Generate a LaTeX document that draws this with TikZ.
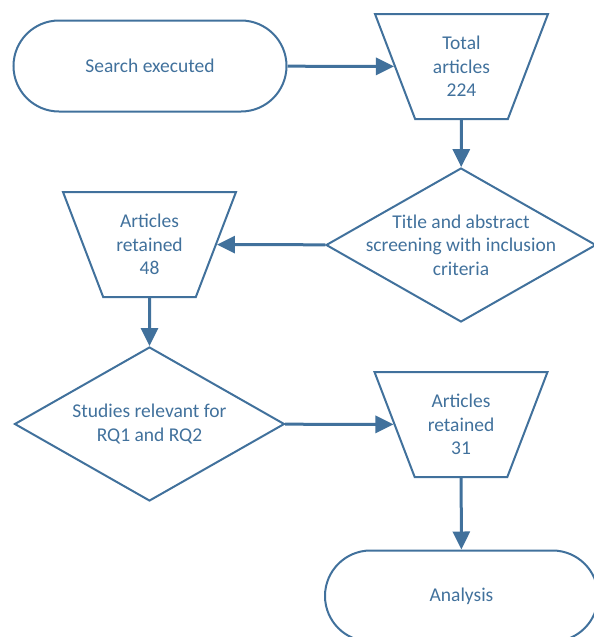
\documentclass[tikz,border=0pt]{standalone}
\usepackage{fontspec}
\setmainfont{Carlito}
\usepackage{xcolor}
\usetikzlibrary{
  shapes.geometric,
  shapes.misc,
  arrows.meta
}
\definecolor{flowblue}{RGB}{65,113,156}

\begin{document}
\begin{tikzpicture}[
  x=1pt, y=-1pt,
  every node/.style = {draw=flowblue, line width=2pt, align=center,
    text=flowblue, inner sep=0pt,
    font=\fontsize{19.5}{23.5}\selectfont},
  terminal/.style = {rounded rectangle, minimum width=273pt, minimum height=91pt},
  countbox/.style = {trapezium, shape border rotate=180, trapezium stretches body,
    trapezium left angle=69, trapezium right angle=69,
    inner ysep=22pt, minimum width=173pt, minimum height=105pt},
  decision/.style = {diamond, aspect=1.75, inner sep=-30pt,
    minimum width=270pt, minimum height=154pt},
  flow/.style = {draw=flowblue, line width=3pt, -{Triangle[length=18pt,width=17pt]}}]
  \useasboundingbox (0,0) rectangle (594,637);
  \clip (0,0) rectangle (594,637);
  \node[terminal] (search) at (150,66) {Search executed};
  \node[countbox] (total) at (461.5,66.5) {Total\\articles\\224};
  \node[decision] (screen) at (461,245) {Title and abstract\\screening with inclusion\\criteria};
  \node[countbox] (kept48) at (149.5,244.5) {Articles\\retained\\48};
  \node[decision] (relevant) at (149.5,424) {Studies relevant for\\RQ1 and RQ2};
  \node[countbox] (kept31) at (461,424.5) {Articles\\retained\\31};
  \node[terminal] (analysis) at (461.5,596) {Analysis};
  \draw[flow] (search) -- (total);
  \draw[flow] (total) -- (screen);
  \draw[flow] (screen) -- (kept48);
  \draw[flow] (kept48) -- (relevant);
  \draw[flow] (relevant) -- (kept31);
  \draw[flow] (kept31) -- (analysis);
\end{tikzpicture}
\end{document}
